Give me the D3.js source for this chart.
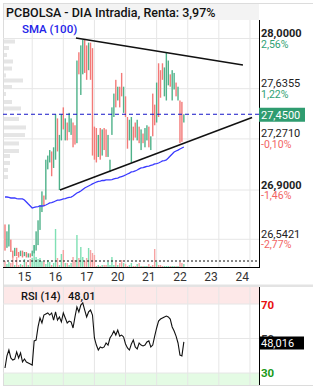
<!DOCTYPE html>
<html>
<head>
<meta charset="utf-8">
<script src="https://cdn.jsdelivr.net/npm/d3@7"></script>
<style>
  body { margin: 0; background: #fff; font-family: Roboto, "Noto Sans", sans-serif; }
  svg { display: block; }
</style>
</head>
<body>
<div id="chart"></div>
<script>
// 30-min candles, PCBOLSA - DIA
const opens = [26.65, 26.48, 26.49, 26.54, 26.46, 26.42, 26.48, 26.45, 26.42, 26.46,
  26.42, 26.45, 26.41, 26.44, 26.42, 26.44, 26.46, 26.50, 26.61, 26.74,
  26.86, 26.83, 27.05, 27.10, 27.18, 27.06, 27.12, 27.42, 26.90, 27.26,
  27.50, 27.26, 27.39, 27.32, 27.30, 27.39, 27.37, 27.24, 27.90, 27.59,
  27.74, 27.99, 27.95, 27.77, 27.97, 27.93, 27.36, 27.35, 27.14, 27.35,
  27.15, 27.35, 27.34, 27.14, 27.03, 27.30, 27.43, 27.70, 27.55, 27.65,
  27.75, 27.46, 27.58, 27.43, 27.26, 27.10, 27.36, 27.39, 27.26, 27.36,
  27.19, 27.31, 27.21, 27.26, 27.36, 27.19, 27.60, 27.52, 27.39, 27.82,
  27.77, 27.82, 27.58, 27.55, 27.66, 27.74, 27.55, 27.63, 27.68, 27.55,
  27.55, 27.54, 27.39];
const closes = [26.46, 26.60, 26.65, 26.45, 26.41, 26.48, 26.42, 26.41, 26.46, 26.41,
  26.45, 26.41, 26.44, 26.41, 26.46, 26.50, 26.60, 26.68, 26.79, 26.89,
  26.78, 27.12, 27.15, 27.19, 27.00, 27.21, 27.45, 27.18, 27.30, 27.45,
  27.34, 27.42, 27.26, 27.46, 27.42, 27.21, 27.23, 27.84, 27.74, 27.95,
  27.99, 27.75, 27.70, 27.97, 27.70, 27.15, 27.12, 27.10, 27.30, 27.12,
  27.34, 27.19, 27.14, 27.30, 27.12, 27.50, 27.60, 27.50, 27.65, 27.50,
  27.58, 27.65, 27.43, 27.20, 27.41, 27.43, 27.26, 27.28, 27.41, 27.24,
  27.34, 27.24, 27.35, 27.37, 27.21, 27.29, 27.29, 27.37, 27.68, 27.43,
  27.57, 27.70, 27.79, 27.90, 27.84, 27.65, 27.77, 27.75, 27.58, 27.65,
  27.24, 27.25, 27.45];
const volumes = [6, 3, 5, 4, 10, 2, 10, 2, 3, 2,
  8, 5, 2, 8, 9, 22, 10, 8, 9, 6,
  5, 3, 7, 5, 2, 4, 38, 9, 2, 13,
  17, 4, 4, 2, 4, 10, 7, 32, 9, 20,
  10, 6, 9, 19, 17, 14, 12, 1, 2, 1,
  2, 2, 2, 5, 2, 10, 2, 5, 2, 4,
  7, 4, 3, 1, 2, 4, 1, 1, 3, 4,
  1, 1, 1, 1, 3, 1, 2, 18, 5, 2,
  2, 1, 1, 1, 1, 1, 1, 1, 1, 1,
  5, 4, 3];
const volumeAvg = 6;
const sma100 = [26.849, 26.849, 26.846, 26.842, 26.842, 26.842, 26.838, 26.835, 26.835, 26.835,
  26.827, 26.813, 26.798, 26.784, 26.769, 26.773, 26.777, 26.780, 26.784, 26.784,
  26.787, 26.791, 26.798, 26.806, 26.809, 26.813, 26.820, 26.827, 26.827, 26.831,
  26.835, 26.838, 26.842, 26.846, 26.849, 26.856, 26.867, 26.878, 26.885, 26.893,
  26.904, 26.915, 26.922, 26.929, 26.936, 26.944, 26.951, 26.958, 26.962, 26.965,
  26.969, 26.969, 26.973, 26.973, 26.973, 26.976, 26.980, 26.984, 26.987, 26.994,
  26.998, 27.002, 27.009, 27.016, 27.023, 27.031, 27.034, 27.038, 27.045, 27.053,
  27.060, 27.063, 27.067, 27.071, 27.074, 27.078, 27.082, 27.089, 27.092, 27.096,
  27.103, 27.111, 27.114, 27.118, 27.132, 27.147, 27.161, 27.176, 27.183, 27.190,
  27.198, 27.205, 27.212];
const rsi14 = [32.9, 39.9, 43.3, 38.7, 37.5, 38.1, 42.2, 38.7, 41.6, 36.4,
  38.1, 36.4, 35.8, 35.2, 34.6, 48.6, 49.1, 56.7, 61.9, 59.0,
  63.6, 64.2, 64.8, 63.6, 64.8, 60.7, 65.4, 60.7, 62.5, 59.6,
  64.8, 61.9, 59.0, 60.1, 59.6, 56.1, 62.5, 68.3, 65.4, 69.4,
  70.6, 66.5, 62.5, 65.4, 66.5, 63.6, 50.3, 46.2, 43.3, 45.1,
  44.5, 45.1, 47.4, 46.2, 50.3, 52.0, 54.3, 52.0, 54.9, 51.4,
  52.0, 50.9, 46.8, 44.5, 43.3, 46.8, 49.1, 45.1, 43.9, 47.4,
  46.2, 45.7, 46.2, 48.0, 48.6, 45.1, 46.2, 51.4, 56.1, 60.1,
  61.3, 61.9, 62.5, 63.0, 62.5, 61.3, 56.7, 54.3, 51.4, 47.4,
  40.4, 39.9, 48.02];
const rsiLast = 48.016;

// volume at price (left histogram)
const profilePrices = [27.978, 27.931, 27.880, 27.833, 27.782, 27.732, 27.695, 27.648, 27.597, 27.539,
  27.492, 27.416, 27.354, 27.299, 27.238, 27.183, 27.147, 27.096, 27.045, 26.994];
const profileVolumes = [11, 5, 3, 9, 8, 2, 19, 8, 2, 8, 17, 15, 22, 21, 15, 15, 6, 6, 4, 4];

// session breaks (candle index) and day labels
const dayLabels = ['15', '16', '17', '20', '21', '22', '23', '24'];
const dayBreaks = [14, 30, 46, 62, 78, 94, 110, 126];

const priceTicks = [28.0, 27.6355, 27.2710, 26.9, 26.5421];
const pctLabels = ['2,56%', '1,22%', '-0,10%', '-1,46%', '-2,77%'];
const lastPrice = 27.45;

// triangle drawn on the chart: [candle index, price]
const trendTop = [[36.5, 28.004], [122.4, 27.808]];
const trendBottom = [[28.3, 26.9], [127.1, 27.426]];

const rsiLevels = [70, 50, 30];

const W = 313, H = 390;
const left = 3, right = 259;
const mainTop = 20, mainBottom = 267;
const rsiTop = 287, rsiBottom = 385;

const GREEN = '#4fb28a', RED = '#f37a78';
const fmt4 = d => d.toFixed(4).replace('.', ',');

const svg = d3.select('#chart').append('svg')
  .attr('width', W).attr('height', H);

const x = d3.scaleLinear().domain([0, 130]).range([5, 5 + 130 * 1.944]);
const y = d3.scaleLinear().domain([26.9, 28.0]).range([190, 38.5]);
const yVol = d3.scaleLinear().domain([0, 40]).range([mainBottom, mainBottom - 40]);
const xProf = d3.scaleLinear().domain([0, 30]).range([4, 34]);
const yRsi = d3.scaleLinear().domain([30, 70]).range([373, 304]);

// frame
svg.append('rect').attr('x', 3.5).attr('y', 3.5).attr('width', W).attr('height', rsiBottom - 3)
  .attr('fill', 'none').attr('stroke', '#dcdcdc');

// header
svg.append('rect').attr('x', 4).attr('y', 4).attr('width', right - 4).attr('height', 16)
  .attr('fill', '#f3f3f3');
svg.append('text').attr('x', 6).attr('y', 16.5)
  .attr('font-size', 12.5).attr('font-weight', 500).attr('fill', '#111')
  .text('PCBOLSA - DIA Intradia, Renta: 3,97%');

// grid main
const main = svg.append('g');
main.selectAll('.vg').data(dayBreaks).enter().append('line')
  .attr('x1', d => x(d)).attr('x2', d => x(d))
  .attr('y1', mainTop).attr('y2', mainBottom)
  .attr('stroke', '#e6e6e6');
main.selectAll('.hg').data(priceTicks).enter().append('line')
  .attr('x1', left).attr('x2', right)
  .attr('y1', d => y(d)).attr('y2', d => y(d))
  .attr('stroke', '#e6e6e6');

// volume profile
main.selectAll('.prof').data(profilePrices).enter().append('rect')
  .attr('x', xProf(0))
  .attr('y', d => y(d) - 2)
  .attr('width', (d, i) => xProf(profileVolumes[i]) - xProf(0))
  .attr('height', 4)
  .attr('fill', '#e5e5e5');

// volume bars
main.selectAll('.vol').data(volumes).enter().append('rect')
  .attr('x', (d, i) => x(i) - 0.7)
  .attr('y', d => yVol(d))
  .attr('width', 1.4)
  .attr('height', d => yVol(0) - yVol(d))
  .attr('fill', (d, i) => closes[i] >= opens[i] ? '#7fe0b4' : '#f6a3a3');

main.append('line')
  .attr('x1', left).attr('x2', right)
  .attr('y1', yVol(volumeAvg)).attr('y2', yVol(volumeAvg))
  .attr('stroke', '#111').attr('stroke-dasharray', '2,2');

// candles
main.selectAll('.candle').data(opens).enter().append('rect')
  .attr('x', (d, i) => x(i) - 0.7)
  .attr('y', (d, i) => y(Math.max(d, closes[i])))
  .attr('width', 1.4)
  .attr('height', (d, i) => Math.max(1, Math.abs(y(d) - y(closes[i]))))
  .attr('fill', (d, i) => closes[i] >= d ? GREEN : RED);

// SMA
main.append('path')
  .datum(sma100)
  .attr('d', d3.line().x((d, i) => x(i)).y(d => y(d)))
  .attr('fill', 'none').attr('stroke', '#3a3aff').attr('stroke-width', 1.3);

// last price dashed
main.append('line')
  .attr('x1', left).attr('x2', right)
  .attr('y1', y(lastPrice)).attr('y2', y(lastPrice))
  .attr('stroke', '#1414c8').attr('stroke-dasharray', '4,3');

// triangle lines
[trendTop, trendBottom].forEach(t => {
  main.append('path')
    .datum(t)
    .attr('d', d3.line().x(d => x(d[0])).y(d => y(d[1])))
    .attr('stroke', '#111').attr('stroke-width', 1.5);
});

main.append('text').attr('x', 22).attr('y', 33)
  .attr('font-size', 11.5).attr('font-weight', 500).attr('fill', '#2323e8')
  .text('SMA (100)');

// axis lines
svg.append('line').attr('x1', right + 0.5).attr('x2', right + 0.5)
  .attr('y1', mainTop).attr('y2', mainBottom + 1).attr('stroke', '#000');
svg.append('line').attr('x1', left).attr('x2', right + 1)
  .attr('y1', mainBottom + 0.5).attr('y2', mainBottom + 0.5).attr('stroke', '#000');

// right price labels
const lab = svg.append('g').attr('font-size', 10.5);
priceTicks.forEach((p, i) => {
  const bold = Math.abs(p * 10 - Math.round(p * 10)) < 1e-6;
  lab.append('text').attr('x', right + 2).attr('y', y(p) - 1.5)
    .attr('fill', '#222').attr('font-weight', bold ? 'bold' : 'normal')
    .attr('font-size', 11)
    .text(fmt4(p));
  lab.append('text').attr('x', right + 2).attr('y', y(p) + 9)
    .attr('fill', pctLabels[i].startsWith('-') ? '#f26464' : '#2fa174')
    .text(pctLabels[i]);
});
lab.append('rect').attr('x', right).attr('y', y(lastPrice) - 6.5)
  .attr('width', 46).attr('height', 14).attr('fill', '#2f9c70');
lab.append('text').attr('x', right + 2).attr('y', y(lastPrice) + 4.5)
  .attr('fill', '#fff').attr('font-size', 11).text(fmt4(lastPrice));

// x axis labels
svg.selectAll('.xl').data(dayLabels).enter().append('text')
  .attr('x', (d, i) => x(dayBreaks[i] - 4))
  .attr('y', 281)
  .attr('text-anchor', 'middle')
  .attr('font-size', 12).attr('fill', '#333')
  .text(d => d);

svg.append('rect').attr('x', 4).attr('y', 284.5).attr('width', W).attr('height', 2.5)
  .attr('fill', '#e3e3e3');

// RSI panel
const rp = svg.append('g');
rp.append('rect').attr('x', 4).attr('y', rsiTop).attr('width', right - 4)
  .attr('height', yRsi(70) - rsiTop).attr('fill', '#fde8e8');
rp.append('rect').attr('x', 4).attr('y', yRsi(30)).attr('width', right - 4)
  .attr('height', rsiBottom - yRsi(30)).attr('fill', '#e4fbe4');
rp.selectAll('.rv').data(dayBreaks).enter().append('line')
  .attr('x1', d => x(d)).attr('x2', d => x(d))
  .attr('y1', rsiTop).attr('y2', rsiBottom)
  .attr('stroke', '#e6e6e6');
rp.selectAll('.rh').data(rsiLevels).enter().append('line')
  .attr('x1', left).attr('x2', right)
  .attr('y1', d => yRsi(d)).attr('y2', d => yRsi(d))
  .attr('stroke', '#e6e6e6');

rp.append('path')
  .datum(rsi14)
  .attr('d', d3.line().x((d, i) => x(i)).y(d => yRsi(d)))
  .attr('fill', 'none').attr('stroke', '#111').attr('stroke-width', 1.1);

rp.append('text').attr('x', 21).attr('y', 300)
  .attr('font-size', 11).attr('font-weight', 500).attr('fill', '#111')
  .text('RSI (14)');
rp.append('text').attr('x', 68).attr('y', 300)
  .attr('font-size', 11).attr('font-weight', 500).attr('fill', '#111')
  .text((Math.floor(rsiLast * 100) / 100).toFixed(2).replace('.', ','));

rp.append('line').attr('x1', right + 0.5).attr('x2', right + 0.5)
  .attr('y1', rsiTop).attr('y2', rsiBottom).attr('stroke', '#000');

rp.append('text').attr('x', right + 2).attr('y', yRsi(70) + 5)
  .attr('font-size', 11.5).attr('font-weight', 'bold').attr('fill', '#e81010').text('70');
rp.append('text').attr('x', right + 2).attr('y', yRsi(50) + 4)
  .attr('font-size', 11.5).attr('font-weight', 'bold').attr('fill', '#333').text('50');
rp.append('text').attr('x', right + 2).attr('y', yRsi(30) + 4)
  .attr('font-size', 11.5).attr('font-weight', 'bold').attr('fill', '#1a9a1a').text('30');

rp.append('rect').attr('x', right).attr('y', yRsi(50) - 2)
  .attr('width', 45).attr('height', 13).attr('fill', '#000');
rp.append('text').attr('x', right + 2).attr('y', yRsi(50) + 8.5)
  .attr('font-size', 11).attr('fill', '#fff')
  .text(rsiLast.toFixed(3).replace('.', ','));
</script>
</body>
</html>
